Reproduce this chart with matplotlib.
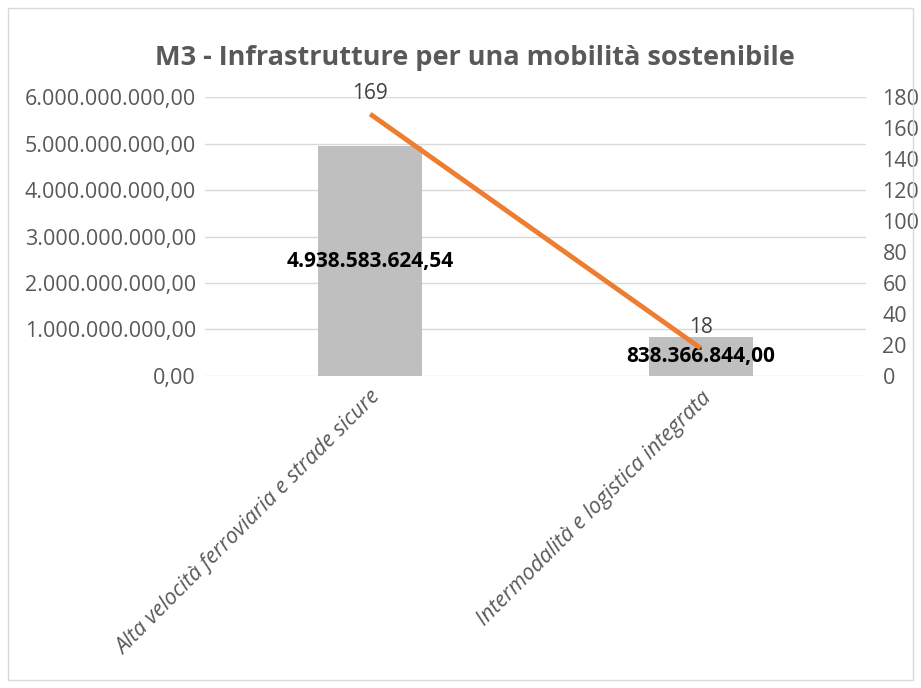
import matplotlib.pyplot as plt
from matplotlib.patches import Rectangle
from matplotlib.ticker import FuncFormatter

categories = ["Alta velocità ferroviaria e strade sicure", "Intermodalità e logistica integrata"]
importi = [4938583624.54, 838366844.00]
progetti = [169, 18]
title = "M3 - Infrastrutture per una mobilità sostenibile"

plt.rcParams['font.family'] = ['Open Sans', 'DejaVu Sans']


def it_format(v, decimals=2):
    s = f"{v:,.{decimals}f}"
    return s.replace(",", "X").replace(".", ",").replace("X", ".")


fig = plt.figure(figsize=(9.21, 6.88), dpi=100)
ax = fig.add_axes([0.2226, 0.4535, 0.7174, 0.4055])
ax2 = ax.twinx()

x = list(range(len(categories)))
ax.bar(x, importi, width=0.315, color='#BFBFBF', zorder=2)
ax.set_xlim(-0.5, len(categories) - 0.5)
ax.set_ylim(0, 6e9)
ax.set_yticks([i * 1e9 for i in range(7)])
ax.yaxis.set_major_formatter(FuncFormatter(lambda v, p: it_format(v)))
ax.grid(axis='y', color='#D9D9D9', linewidth=1, zorder=0)
ax.set_axisbelow(True)

ax2.plot(x, progetti, color='#ED7D31', linewidth=3.5, solid_capstyle='butt', zorder=3)
ax2.set_ylim(0, 180)
ax2.set_yticks(range(0, 181, 20))

for a in (ax, ax2):
    for s in a.spines.values():
        s.set_visible(False)
    a.tick_params(length=0, labelsize=15.5, colors='#595959')
ax.tick_params(axis='y', pad=6.5)
ax2.tick_params(axis='y', pad=12)

ax.set_xticks(x)
ax.set_xticklabels(categories, rotation=45, ha='right', rotation_mode='anchor',
                   fontsize=15.5, style='italic', color='#595959')
ax.tick_params(axis='x', pad=8)

for xi, v in zip(x, importi):
    ax.text(xi, v / 2, it_format(v), ha='center', va='center', fontsize=15,
            fontweight='bold', color='black', zorder=5)
for xi, v in zip(x, progetti):
    ax2.annotate(str(v), (xi, v), xytext=(0, 7), textcoords='offset points',
                 ha='center', va='bottom', fontsize=15, color='#404040', zorder=5)

fig.text(0.516, 0.915, title, ha='center', va='center', fontsize=19.5,
         fontweight='bold', color='#595959')

fig.patches.append(Rectangle((0.009, 0.012), 0.982, 0.976, transform=fig.transFigure,
                             fill=False, edgecolor='#D9D9D9', linewidth=1))

fig.savefig("out.png", dpi=100)
